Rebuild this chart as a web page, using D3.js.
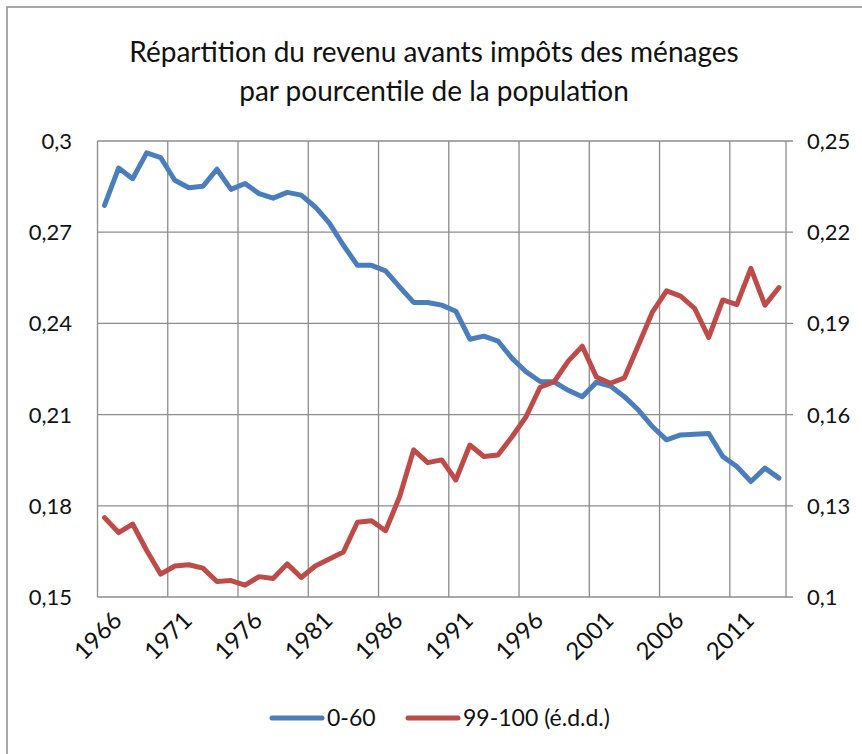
<!DOCTYPE html>
<html>
<head>
<meta charset="utf-8">
<script src="https://cdn.jsdelivr.net/npm/d3@7"></script>
<style>
  body { margin: 0; background: #fff; }
  svg { display: block; font-family: Lato, "Open Sans", sans-serif; }
</style>
</head>
<body>
<svg id="chart" width="862" height="754"></svg>
<script>
// categories (years)
const years = [1966, 1967, 1968, 1969, 1970, 1971, 1972, 1973, 1974, 1975,
  1976, 1977, 1978, 1979, 1980, 1981, 1982, 1983, 1984, 1985,
  1986, 1987, 1988, 1989, 1990, 1991, 1992, 1993, 1994, 1995,
  1996, 1997, 1998, 1999, 2000, 2001, 2002, 2003, 2004, 2005,
  2006, 2007, 2008, 2009, 2010, 2011, 2012, 2013, 2014];

// share 0-60 (left axis)
const bottom60 = [0.2788, 0.2911, 0.2876, 0.2961, 0.2945, 0.2871, 0.2846, 0.2851, 0.2907, 0.2841,
  0.2860, 0.2827, 0.2812, 0.2831, 0.2822, 0.2783, 0.2730, 0.2657, 0.2591, 0.2591,
  0.2573, 0.2520, 0.2469, 0.2469, 0.2460, 0.2440, 0.2348, 0.2358, 0.2342, 0.2285,
  0.2241, 0.2209, 0.2208, 0.2180, 0.2159, 0.2206, 0.2194, 0.2159, 0.2115, 0.2060,
  0.2017, 0.2033, 0.2035, 0.2038, 0.1962, 0.1929, 0.1880, 0.1924, 0.1891];

// share 99-100 (right axis)
const top1 = [0.1261, 0.1212, 0.1240, 0.1153, 0.1075, 0.1102, 0.1106, 0.1095, 0.1051, 0.1054,
  0.1039, 0.1067, 0.1061, 0.1109, 0.1064, 0.1102, 0.1125, 0.1148, 0.1246, 0.1251,
  0.1218, 0.1330, 0.1484, 0.1442, 0.1451, 0.1385, 0.1500, 0.1462, 0.1467, 0.1527,
  0.1593, 0.1690, 0.1708, 0.1776, 0.1825, 0.1724, 0.1703, 0.1721, 0.1829, 0.1938,
  0.2007, 0.1990, 0.1949, 0.1854, 0.1977, 0.1962, 0.2081, 0.1960, 0.2018];

const xTickLabels = [1966, 1971, 1976, 1981, 1986, 1991, 1996, 2001, 2006, 2011];
const leftTicks = [0.15, 0.18, 0.21, 0.24, 0.27, 0.3];
const rightTicks = [0.1, 0.13, 0.16, 0.19, 0.22, 0.25];
const titleLines = ["Répartition du revenu avants impôts des ménages", "par pourcentile de la population"];
const seriesNames = ["0-60", "99-100 (é.d.d.)"];

const blue = "#4a7ebb", red = "#be4b48", grid = "#8c8c8c";
const plot = { left: 97.5, right: 786, top: 141, bottom: 597 };

const svg = d3.select("#chart");
const fmt = d => String(d).replace(".", ",");

// outer chart frame
svg.append("rect")
  .attr("x", 7).attr("y", 7).attr("width", 900).attr("height", 800)
  .attr("fill", "none").attr("stroke", "#8a8a8a").attr("stroke-width", 1.5);

// title
svg.append("g").selectAll("text")
  .data(titleLines)
  .join("text")
  .attr("x", 434).attr("y", (d, i) => 62 + i * 39)
  .attr("text-anchor", "middle")
  .style("font-size", "28px").style("fill", "#111")
  .text(d => d);

const x = d3.scaleBand().domain(years).range([plot.left, plot.right]).padding(0);
const yL = d3.scaleLinear().domain([0.15, 0.3]).range([plot.bottom, plot.top]);
const yR = d3.scaleLinear().domain([0.1, 0.25]).range([plot.bottom, plot.top]);
const cx = d => x(d) + x.bandwidth() / 2;

// horizontal gridlines (with right-side tick marks)
svg.append("g").selectAll("line")
  .data(leftTicks)
  .join("line")
  .attr("x1", plot.left).attr("x2", plot.right + 7)
  .attr("y1", d => yL(d)).attr("y2", d => yL(d))
  .attr("stroke", grid).attr("stroke-width", 1.3);

// vertical gridlines at category boundaries
svg.append("g").selectAll("line")
  .data(xTickLabels)
  .join("line")
  .attr("x1", d => x(d)).attr("x2", d => x(d))
  .attr("y1", plot.top).attr("y2", plot.bottom)
  .attr("stroke", grid).attr("stroke-width", 1.3);

// right axis line
svg.append("line")
  .attr("x1", plot.right).attr("x2", plot.right)
  .attr("y1", plot.top).attr("y2", plot.bottom)
  .attr("stroke", grid).attr("stroke-width", 1.3);

// left labels
svg.append("g").selectAll("text")
  .data(leftTicks)
  .join("text")
  .attr("x", 72).attr("y", d => yL(d) + 8)
  .attr("text-anchor", "end")
  .style("font-size", "22px").style("fill", "#111")
  .text(fmt);

// right labels
svg.append("g").selectAll("text")
  .data(rightTicks)
  .join("text")
  .attr("x", 807).attr("y", d => yR(d) + 8)
  .style("font-size", "22px").style("fill", "#111")
  .text(fmt);

// x labels, rotated
svg.append("g").selectAll("text")
  .data(xTickLabels)
  .join("text")
  .attr("text-anchor", "end")
  .attr("transform", d => `translate(${cx(d) + 7},${plot.bottom + 13}) rotate(-45)`)
  .attr("dy", "0.7em")
  .style("font-size", "24px").style("fill", "#111")
  .text(d => d);

// lines
const lineL = d3.line().x((d, i) => cx(years[i])).y(d => yL(d));
const lineR = d3.line().x((d, i) => cx(years[i])).y(d => yR(d));

svg.append("path").datum(bottom60)
  .attr("d", lineL).attr("fill", "none")
  .attr("stroke", blue).attr("stroke-width", 5)
  .attr("stroke-linejoin", "round").attr("stroke-linecap", "round");

svg.append("path").datum(top1)
  .attr("d", lineR).attr("fill", "none")
  .attr("stroke", red).attr("stroke-width", 5)
  .attr("stroke-linejoin", "round").attr("stroke-linecap", "round");

// legend
const legend = [
  { name: seriesNames[0], color: blue, x: 272 },
  { name: seriesNames[1], color: red, x: 408 }
];
const lg = svg.append("g").selectAll("g").data(legend).join("g")
  .attr("transform", d => `translate(${d.x},718)`);
lg.append("line")
  .attr("x1", 0).attr("x2", 50).attr("y1", 0).attr("y2", 0)
  .attr("stroke", d => d.color).attr("stroke-width", 5).attr("stroke-linecap", "round");
lg.append("text")
  .attr("x", 55).attr("y", 8)
  .style("font-size", "23px").style("fill", "#111")
  .text(d => d.name);
</script>
</body>
</html>
